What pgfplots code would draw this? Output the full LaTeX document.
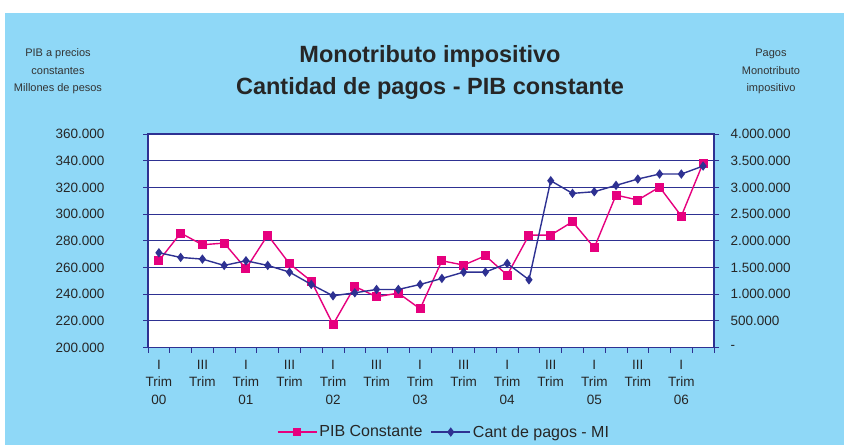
\documentclass[border=0pt]{standalone}
\usepackage{pgfplots}
\pgfplotsset{compat=1.18}
\usepackage{fontspec}
\setmainfont{Liberation Sans}
\definecolor{bgblue}{RGB}{143,216,247}
\definecolor{navy}{RGB}{46,49,146}
\definecolor{mag}{RGB}{230,0,126}
\begin{document}
\begin{tikzpicture}
\path[use as bounding box] (0pt,0pt) rectangle (844pt,445pt);
\fill[white] (0pt,0pt) rectangle (844pt,445pt);
\fill[bgblue] (5pt,0pt) rectangle (844pt,432pt);
% titles
\node[font=\bfseries\fontsize{23.5}{28}\selectfont,text=black!85] at (430pt,389pt) {Monotributo impositivo};
\node[font=\bfseries\fontsize{23.5}{28}\selectfont,text=black!85] at (430pt,357pt) {Cantidad de pagos - PIB constante};
\node[font=\fontsize{11}{12}\selectfont,text=black!80] at (58pt,391pt) {PIB a precios};
\node[font=\fontsize{11}{12}\selectfont,text=black!80] at (58pt,374pt) {constantes};
\node[font=\fontsize{11}{12}\selectfont,text=black!80] at (58pt,356pt) {Millones de pesos};
\node[font=\fontsize{11}{12}\selectfont,text=black!80] at (771pt,391pt) {Pagos};
\node[font=\fontsize{11}{12}\selectfont,text=black!80] at (771pt,374pt) {Monotributo};
\node[font=\fontsize{11}{12}\selectfont,text=black!80] at (771pt,356pt) {impositivo};
\begin{axis}[
  at={(148pt,97.5pt)}, anchor=south west,
  scale only axis, width=566pt, height=213.5pt,
  xmin=-0.5, xmax=25.5, ymin=200000, ymax=360000,
  scaled y ticks=false,
  axis background/.style={fill=white},
  axis line style={navy, line width=1.2pt},
  xtick={0,2,...,24},
  xticklabels={{I\\Trim\\00},{III\\Trim},{I\\Trim\\01},{III\\Trim},{I\\Trim\\02},{III\\Trim},{I\\Trim\\03},{III\\Trim},{I\\Trim\\04},{III\\Trim},{I\\Trim\\05},{III\\Trim},{I\\Trim\\06}},
  minor xtick={-0.5,0.5,...,25.5},
  major x tick style={draw=none},
  minor x tick style={navy, line width=0.8pt},
  minor tick length=5pt,
  xtick pos=bottom, ytick pos=left,
  tick align=outside,
  major tick length=5pt,
  ytick={200000,220000,240000,260000,280000,300000,320000,340000,360000},
  yticklabels={200.000,220.000,240.000,260.000,280.000,300.000,320.000,340.000,360.000},
  y tick style={navy, line width=0.8pt},
  ymajorgrids, grid style={navy, line width=0.8pt},
  xticklabel style={align=center, font=\fontsize{13.5}{17.5}\selectfont, text=black!85, yshift=-4pt},
  yticklabel style={font=\fontsize{13.5}{16}\selectfont, text=black!85, xshift=-35pt},
  clip=false,
]
\addplot[mag, line width=1.4pt, mark=square*, mark size=3.8pt, mark options={fill=mag, draw=mag}] coordinates {
(0,265000)(1,285750)(2,277000)(3,278250)(4,259000)(5,284250)(6,262750)(7,249750)(8,217250)(9,245750)(10,238000)(11,240750)(12,229000)(13,265000)(14,261750)(15,268750)(16,254250)(17,284250)(18,284250)(19,294250)(20,274750)(21,314250)(22,310500)(23,320250)(24,298500)(25,338250)};
\end{axis}
\begin{axis}[
  at={(148pt,97.5pt)}, anchor=south west,
  scale only axis, width=566pt, height=213.5pt,
  xmin=-0.5, xmax=25.5, ymin=0, ymax=4000000,
  scaled y ticks=false,
  axis x line=none, axis y line*=right,
  axis line style={navy, line width=1.2pt},
  tick align=outside, major tick length=5pt,
  ytick={0,500000,1000000,1500000,2000000,2500000,3000000,3500000,4000000},
  yticklabels={-,500.000,1.000.000,1.500.000,2.000.000,2.500.000,3.000.000,3.500.000,4.000.000},
  y tick style={navy, line width=0.8pt},
  yticklabel style={font=\fontsize{13.5}{16}\selectfont, text=black!85, anchor=west, xshift=8pt},
  clip=false,
  legend columns=2,
  legend style={at={(rel axis cs:0.523,-0.396)}, anchor=center, draw=none, fill=none, font=\fontsize{16}{18}\selectfont, text=black!85,
    /tikz/every even column/.append style={column sep=6pt}},
  legend image code/.code={\draw[mark repeat=2,mark phase=2,#1] plot coordinates {(0pt,0pt)(19.5pt,0pt)(39pt,0pt)};},
]
\addlegendimage{mag, line width=1.4pt, mark=square*, mark size=3pt, mark options={fill=mag, draw=mag}}
\addlegendentry{PIB Constante}
\addplot[navy, line width=1.4pt, mark=diamond*, mark size=3.6pt, mark options={fill=navy, draw=navy}] coordinates {
(0,1775000)(1,1687500)(2,1656250)(3,1537500)(4,1625000)(5,1537500)(6,1412500)(7,1181250)(8,968750)(9,1025000)(10,1087500)(11,1087500)(12,1181250)(13,1293750)(14,1412500)(15,1412500)(16,1575000)(17,1268750)(18,3125000)(19,2887500)(20,2918750)(21,3037500)(22,3156250)(23,3250000)(24,3250000)(25,3400000)};
\addlegendentry{Cant de pagos - MI}
\end{axis}
\end{tikzpicture}
\end{document}
